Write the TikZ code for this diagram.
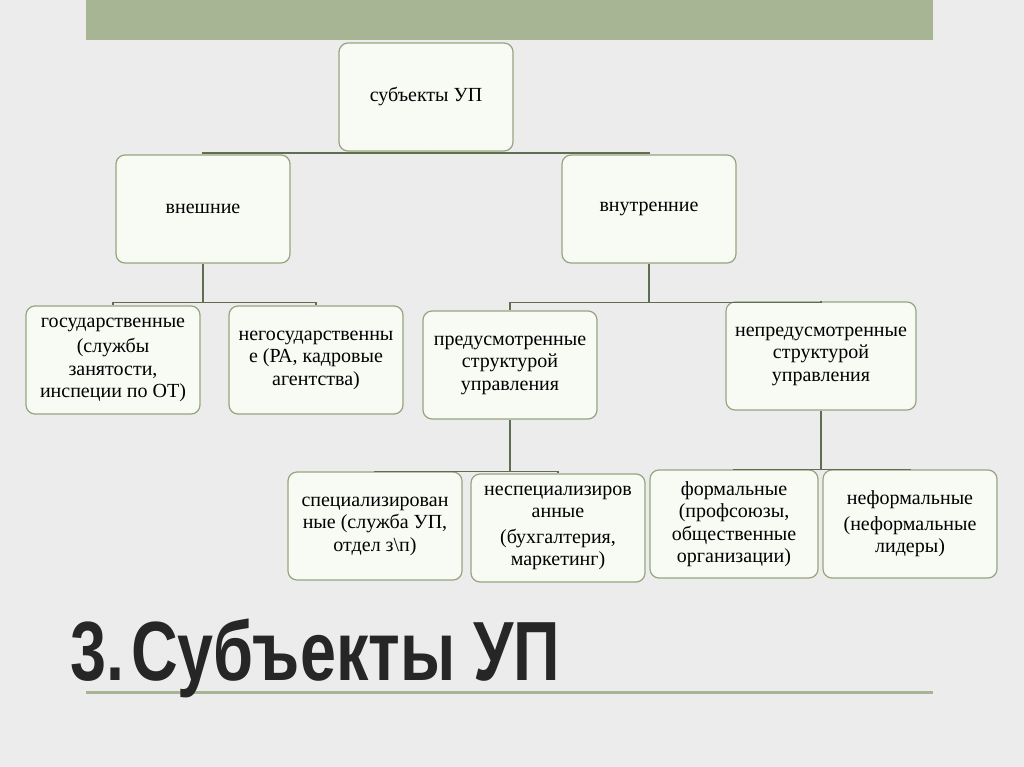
\documentclass[tikz,border=0pt]{standalone}
\usepackage{fontspec}
\setmainfont{Liberation Serif}
\newfontfamily\headfont{Liberation Sans}[FakeStretch=0.77]
\usetikzlibrary{positioning}
\definecolor{barGreen}{RGB}{167,181,148}
\definecolor{boxEdge}{RGB}{150,165,128}
\definecolor{boxFill}{RGB}{248,250,244}
\definecolor{linkGreen}{RGB}{95,110,80}
\definecolor{paper}{RGB}{236,236,236}
\definecolor{titleInk}{RGB}{38,38,38}
\tikzset{
  unit/.style={draw=boxEdge,line width=1.2pt,rounded corners=9pt,fill=boxFill,align=center,
    minimum width=174pt,minimum height=108pt,inner sep=2pt,font=\fontsize{20}{22.5}\selectfont},
  link/.style={draw=linkGreen,line width=1.3pt}
}

\begin{document}
\begin{tikzpicture}[x=1pt,y=-1pt]
\useasboundingbox (0,0) rectangle (1024,767);
\fill[paper] (0,0) rectangle (1024,767);
\fill[barGreen] (86,0) rectangle (933,40);
\draw[barGreen,line width=3pt] (86,692) -- (933,692);

\node[unit] (root) at (426,97) {субъекты УП};
\node[unit] (ext) at (203,209) {внешние};
\node[unit] (int) at (649,209) {внутренние};
\node[unit] (gov) at (113,360) {государственные\\[3pt](службы\\занятости,\\инспеции по ОТ)};
\node[unit] (ngov) at (316,360) {негосударственны\\е (РА, кадровые\\агентства)};
\node[unit] (plan) at (510,365) {предусмотренные\\структурой\\управления};
\node[unit,minimum width=190pt] (uplan) at (821,356) {непредусмотренные\\структурой\\управления};
\node[unit] (spec) at (375,526) {специализирован\\ные (служба УП,\\отдел з\textbackslash п)};
\node[unit] (nspec) at (558,528) {неспециализиров\\анные\\[3pt](бухгалтерия,\\маркетинг)};
\node[unit,minimum width=168pt] (form) at (734,524) {формальные\\(профсоюзы,\\общественные\\организации)};
\node[unit] (nform) at (910,524) {неформальные\\[3pt](неформальные\\лидеры)};

\foreach \p/\a/\b/\d in {root/ext/int/1.5,ext/gov/ngov/39,int/plan/uplan/39,plan/spec/nspec/52,uplan/form/nform/59} {
  \draw[link] (\p.south) -- ++(0,\d) coordinate (\p-j);
  \draw[link] (\p-j) -| (\a.north);
  \draw[link] (\p-j) -| (\b.north);
}

\node[anchor=base west,inner sep=0pt,text=titleInk,font=\headfont\bfseries\fontsize{84}{84}\selectfont] (title) at (70,680) {3.\kern-17pt{} Субъекты УП};
\end{tikzpicture}
\end{document}
